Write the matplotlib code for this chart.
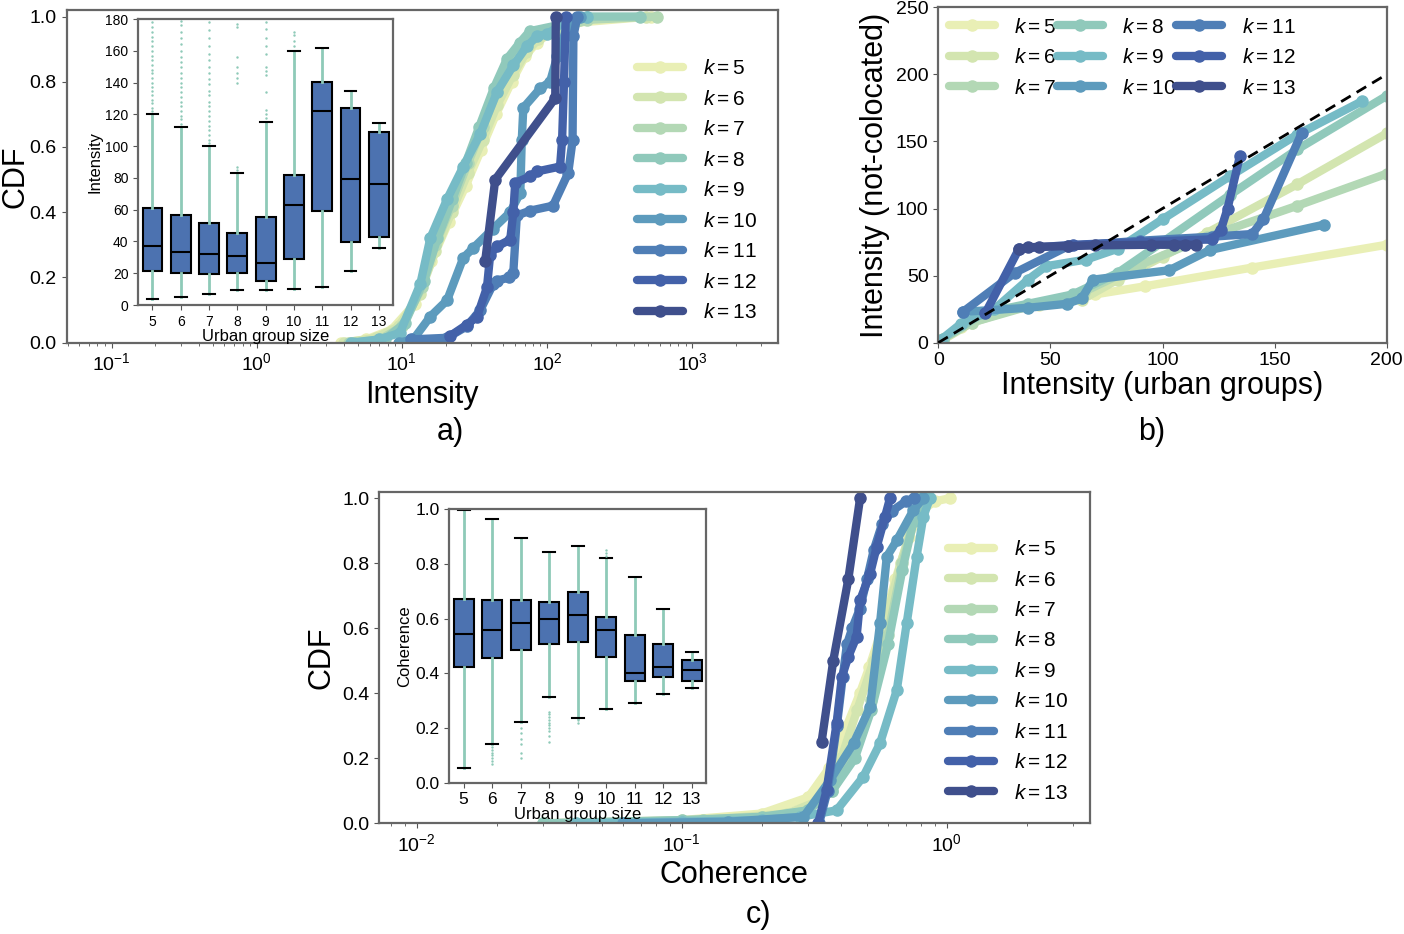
import matplotlib.pyplot as plt

plt.rcParams['font.family'] = ['Liberation Sans', 'DejaVu Sans']
plt.rcParams['mathtext.fontset'] = 'custom'
plt.rcParams['mathtext.rm'] = 'Liberation Sans'
plt.rcParams['mathtext.it'] = 'Liberation Sans:italic'
plt.rcParams['mathtext.bf'] = 'Liberation Sans:bold'

ks = [5, 6, 7, 8, 9, 10, 11, 12, 13]
colors = ['#e9efb5', '#d3e5b0', '#b3d8b5', '#90c9bb', '#76bbc6',
          '#5d9bbd', '#4f7eb6', '#4361a9', '#3f4f8c']
box_color = '#4c72b0'
whisk_color = '#8ecab8'

# ---- a) CDF of intensity per group size
a5_x = [3.8, 5.7, 8.5, 12.3, 16, 21, 27.5, 35, 44.5, 57, 71, 85, 105, 150, 520]
a5_y = [0, 0.01, 0.04, 0.12, 0.25, 0.37, 0.48, 0.59, 0.70, 0.80, 0.88, 0.92, 0.95, 0.98, 1.0]
a6_x = [4, 6.6, 9.5, 13.3, 17, 22, 28.5, 36, 45.5, 58, 72, 87, 114, 170, 480]
a6_y = [0, 0.015, 0.05, 0.15, 0.28, 0.40, 0.52, 0.62, 0.73, 0.82, 0.89, 0.93, 0.96, 0.99, 1.0]
a7_x = [4.3, 7.1, 10, 13.8, 17, 22, 28.5, 36, 45.5, 57, 68, 81, 125, 190, 570]
a7_y = [0, 0.01, 0.05, 0.17, 0.30, 0.42, 0.55, 0.66, 0.77, 0.85, 0.91, 0.94, 0.96, 0.99, 1.0]
a8_x = [4.7, 7.6, 10.5, 14.2, 17.6, 22.3, 27.5, 34, 43, 53, 65, 76, 140, 190, 440]
a8_y = [0, 0.01, 0.06, 0.19, 0.32, 0.44, 0.55, 0.66, 0.78, 0.87, 0.92, 0.955, 0.98, 1.0, 1.0]
a9_x = [4.5, 7, 9.7, 13.4, 15.7, 20.5, 26.5, 34.7, 45.4, 58.6, 73, 85.7, 100, 138, 190]
a9_y = [0, 0.01, 0.03, 0.18, 0.32, 0.44, 0.54, 0.64, 0.77, 0.85, 0.91, 0.94, 0.945, 0.99, 1.0]
a10_x = [9.5, 12, 15.7, 20.5, 26.5, 31, 42.6, 55.8, 65.5, 67, 68.7, 90, 105, 118, 138, 170]
a10_y = [0, 0.01, 0.08, 0.13, 0.26, 0.29, 0.35, 0.40, 0.46, 0.62, 0.72, 0.78, 0.80, 0.88, 0.97, 1.0]
a11_x = [11.5, 20.5, 28, 34.7, 42.6, 45.2, 55, 58.6, 62, 76.8, 110, 140, 150, 152, 162]
a11_y = [0.01, 0.015, 0.05, 0.10, 0.18, 0.19, 0.20, 0.215, 0.39, 0.405, 0.42, 0.52, 0.62, 0.94, 1.0]
a12_x = [21.4, 28, 33, 38.6, 40.6, 45.2, 55.8, 58.6, 60.4, 76.8, 85.4, 123, 127, 131, 134.7]
a12_y = [0.02, 0.055, 0.08, 0.17, 0.27, 0.295, 0.316, 0.40, 0.49, 0.51, 0.525, 0.54, 0.62, 0.80, 1.0]
a13_x = [37.5, 44, 114, 115]
a13_y = [0.25, 0.5, 0.75, 1.0]

# inset a) intensity box plots
ia_lo = [4.0, 4.8, 6.9, 9.2, 9.2, 10.3, 11.5, 21.4, 36.1]
ia_q1 = [21.6, 19.9, 19.5, 19.9, 15.3, 29.0, 58.9, 39.9, 42.6]
ia_med = [37.1, 33.1, 32.1, 30.8, 26.6, 62.9, 122.3, 79.1, 76.1]
ia_q3 = [60.8, 56.6, 51.8, 45.1, 55.4, 81.6, 140.5, 124.2, 109.1]
ia_hi = [120.2, 112, 100, 82.9, 115, 160, 161.5, 134.7, 114.5]
ia_fl5 = [122, 124, 127, 129, 132, 135, 137, 140, 143, 146, 148, 151, 154, 157, 160, 163, 166, 169, 172, 175, 178]
ia_fl6 = [114, 117, 119, 122, 125, 128, 131, 134, 137, 140, 143, 146, 150, 153, 156, 160, 164, 168, 172, 176, 179]
ia_fl7 = [102, 104, 107, 110, 113, 116, 119, 122, 125, 128, 132, 135, 139, 142, 146, 150, 154, 158, 163, 168, 173, 178]
ia_fl8 = [85, 87, 140, 143, 146, 150, 156, 175, 177]
ia_fl9 = [118, 120, 123, 134, 145, 147, 150, 158, 163, 168, 174, 178]
ia_fl10 = [163, 166, 170, 172]

# ---- b) intensity urban groups vs not-colocated
b5_x = [2, 10, 25, 45, 70, 92, 140, 200]
b5_y = [3, 12, 22, 28, 36, 42, 56, 73]
b6_x = [2, 15, 40, 64, 80, 100, 120, 160, 200]
b6_y = [2, 15, 28, 32, 47, 64, 82, 118, 156]
b7_x = [2, 15, 40, 65, 90, 120, 160, 200]
b7_y = [3, 15, 27, 38, 58, 79, 102, 126]
b8_x = [2, 20, 40, 60, 80, 100, 130, 160, 200]
b8_y = [3, 22, 29, 36, 52, 75, 110, 144, 184]
b9_x = [1, 10, 25, 40, 48, 66, 80, 100, 130, 160, 189]
b9_y = [2, 14, 25, 47, 57, 62, 70, 92, 124, 155, 180]
b10_x = [11, 40, 57.5, 64, 69, 103, 121, 172]
b10_y = [23, 26, 29, 33, 47, 54, 69, 88]
b11_x = [11, 34, 58, 90, 122, 140, 145, 162]
b11_y = [23, 52, 72, 76, 79, 81, 92, 156]
b12_x = [21, 36, 60, 90, 122, 126, 129, 134.5]
b12_y = [22, 70, 73, 75, 77, 84, 100, 139]
b13_x = [36, 40, 45, 58, 70, 95, 105, 110, 115]
b13_y = [70, 71, 71.5, 72, 72.5, 73, 73, 73, 73]

# ---- c) CDF of coherence per group size
c5_x = [0.03, 0.1, 0.2, 0.3, 0.36, 0.42, 0.47, 0.51, 0.57, 0.64, 0.72, 0.8, 0.9, 1.03]
c5_y = [0, 0.01, 0.03, 0.08, 0.17, 0.30, 0.40, 0.48, 0.60, 0.75, 0.88, 0.96, 0.99, 1.0]
c6_x = [0.04, 0.12, 0.25, 0.33, 0.4, 0.46, 0.53, 0.6, 0.67, 0.75, 0.85]
c6_y = [0, 0.01, 0.03, 0.07, 0.20, 0.35, 0.50, 0.65, 0.80, 0.93, 1.0]
c7_x = [0.03, 0.12, 0.22, 0.3, 0.37, 0.44, 0.52, 0.6, 0.68, 0.76, 0.82]
c7_y = [0, 0.01, 0.02, 0.04, 0.10, 0.20, 0.38, 0.58, 0.80, 0.95, 1.0]
c8_x = [0.03, 0.1, 0.2, 0.3, 0.37, 0.45, 0.52, 0.6, 0.68, 0.75, 0.8]
c8_y = [0, 0.01, 0.02, 0.04, 0.10, 0.20, 0.35, 0.55, 0.78, 0.93, 1.0]
c9_x = [0.04, 0.1, 0.2, 0.28, 0.384, 0.484, 0.56, 0.648, 0.706, 0.77, 0.816, 0.865]
c9_y = [0, 0.005, 0.01, 0.02, 0.04, 0.143, 0.246, 0.41, 0.615, 0.82, 0.943, 1.0]
c10_x = [0.06, 0.15, 0.288, 0.363, 0.445, 0.514, 0.56, 0.594, 0.648, 0.748, 0.816]
c10_y = [0, 0.005, 0.02, 0.133, 0.246, 0.358, 0.615, 0.82, 0.87, 0.963, 1.0]
c11_x = [0.33, 0.355, 0.385, 0.405, 0.42, 0.44, 0.47, 0.5, 0.53, 0.57, 0.62, 0.7, 0.75]
c11_y = [0, 0.10, 0.30, 0.45, 0.55, 0.60, 0.66, 0.75, 0.84, 0.92, 0.96, 0.99, 1.0]
c12_x = [0.327, 0.352, 0.384, 0.402, 0.425, 0.457, 0.471, 0.514, 0.544, 0.585, 0.611]
c12_y = [0, 0.102, 0.307, 0.45, 0.512, 0.574, 0.686, 0.768, 0.85, 0.943, 1.0]
c13_x = [0.337, 0.373, 0.425, 0.471]
c13_y = [0.25, 0.5, 0.75, 1.0]

# inset c) coherence box plots
ic_lo = [0.055, 0.142, 0.222, 0.312, 0.236, 0.269, 0.291, 0.324, 0.345]
ic_q1 = [0.425, 0.455, 0.487, 0.509, 0.513, 0.460, 0.373, 0.385, 0.373]
ic_med = [0.545, 0.560, 0.584, 0.597, 0.615, 0.557, 0.401, 0.423, 0.411]
ic_q3 = [0.672, 0.670, 0.670, 0.660, 0.698, 0.605, 0.542, 0.507, 0.447]
ic_hi = [0.998, 0.966, 0.896, 0.845, 0.866, 0.822, 0.754, 0.636, 0.478]
ic_fl6 = [0.07, 0.08, 0.09, 0.10, 0.11, 0.12, 0.13]
ic_fl7 = [0.09, 0.11, 0.14, 0.16, 0.18, 0.20]
ic_fl8 = [0.15, 0.17, 0.19, 0.20, 0.21, 0.22, 0.23, 0.24, 0.25, 0.26]
ic_fl9 = [0.22, 0.23]
ic_fl10 = [0.83, 0.84, 0.85]

a_xs = [a5_x, a6_x, a7_x, a8_x, a9_x, a10_x, a11_x, a12_x, a13_x]
a_ys = [a5_y, a6_y, a7_y, a8_y, a9_y, a10_y, a11_y, a12_y, a13_y]
b_xs = [b5_x, b6_x, b7_x, b8_x, b9_x, b10_x, b11_x, b12_x, b13_x]
b_ys = [b5_y, b6_y, b7_y, b8_y, b9_y, b10_y, b11_y, b12_y, b13_y]
c_xs = [c5_x, c6_x, c7_x, c8_x, c9_x, c10_x, c11_x, c12_x, c13_x]
c_ys = [c5_y, c6_y, c7_y, c8_y, c9_y, c10_y, c11_y, c12_y, c13_y]
ia_fliers = [ia_fl5, ia_fl6, ia_fl7, ia_fl8, ia_fl9, ia_fl10, [], [], []]
ic_fliers = [[], ic_fl6, ic_fl7, ic_fl8, ic_fl9, ic_fl10, [], [], []]


def style(ax, size):
    for s in ax.spines.values():
        s.set_color('#666666')
        s.set_linewidth(1.6)
    ax.tick_params(which='both', colors='#555555', labelcolor='black', labelsize=size)


def draw_lines(ax, xs, ys):
    for k, c, x, y in zip(ks, colors, xs, ys):
        ax.plot(x, y, '-o', color=c, lw=6, ms=8, label='$k = %d$' % k,
                solid_capstyle='round', solid_joinstyle='round')


def draw_boxes(ax, lo, q1, med, q3, hi, fliers, size):
    stats = []
    for i in range(len(ks)):
        stats.append(dict(whislo=lo[i], q1=q1[i], med=med[i], q3=q3[i],
                          whishi=hi[i], fliers=fliers[i]))
    ax.bxp(stats, positions=range(len(ks)), widths=0.7, capwidths=0.42, patch_artist=True,
           boxprops=dict(facecolor=box_color, edgecolor='black', linewidth=1.5),
           medianprops=dict(color='black', linewidth=1.5),
           whiskerprops=dict(color=whisk_color, linewidth=2),
           capprops=dict(color='black', linewidth=1.5),
           flierprops=dict(marker='.', markersize=1.5, markerfacecolor=whisk_color,
                           markeredgecolor=whisk_color))
    ax.set_xticks(range(len(ks)))
    ax.set_xticklabels([str(k) for k in ks])
    ax.set_xlim(-0.5, len(ks) - 0.5)
    ax.set_xlabel('Urban group size', fontsize=12, labelpad=0)
    style(ax, size)


leg_kw = dict(frameon=False, fontsize=15, handlelength=2.2, handletextpad=0.95,
              labelspacing=0.55, numpoints=1)

fig = plt.figure(figsize=(14.04, 9.34), dpi=100)

# a)
ax_a = fig.add_axes([0.0474, 0.6331, 0.5067, 0.3562])
draw_lines(ax_a, a_xs, a_ys)
ax_a.set_xscale('log')
ax_a.set_xlim(0.049, 3900)
ax_a.set_ylim(0, 1.02)
ax_a.set_xlabel('Intensity', fontsize=22)
ax_a.set_ylabel('CDF', fontsize=22, labelpad=-1)
style(ax_a, 14)
ax_a.legend(loc='center left', bbox_to_anchor=(0.79, 0.457), borderaxespad=0, **leg_kw)

ax_ia = fig.add_axes([0.0985, 0.6734, 0.1814, 0.3062])
draw_boxes(ax_ia, ia_lo, ia_q1, ia_med, ia_q3, ia_hi, ia_fliers, 10)
ax_ia.set_ylim(0, 180)
ax_ia.set_yticks(range(0, 181, 20))
ax_ia.set_ylabel('Intensity', fontsize=12, labelpad=2)

# b)
ax_b = fig.add_axes([0.6683, 0.6331, 0.3194, 0.3591])
draw_lines(ax_b, b_xs, b_ys)
ax_b.plot([0, 200], [0, 200], color='black', lw=2, ls=(0, (4, 2.5)), zorder=5)
ax_b.set_xlim(0, 200)
ax_b.set_ylim(0, 250)
ax_b.set_xlabel('Intensity (urban groups)', fontsize=22, labelpad=1)
ax_b.set_ylabel('Intensity (not-colocated)', fontsize=22)
style(ax_b, 14)
ax_b.legend(loc='upper left', bbox_to_anchor=(0, 1), borderaxespad=0.1, ncol=3,
            columnspacing=0.0, **leg_kw)

# c)
ax_c = fig.add_axes([0.2699, 0.1185, 0.5064, 0.3551])
draw_lines(ax_c, c_xs, c_ys)
ax_c.set_xscale('log')
ax_c.set_xlim(0.0072, 3.47)
ax_c.set_ylim(0, 1.02)
ax_c.set_xlabel('Coherence', fontsize=22)
ax_c.set_ylabel('CDF', fontsize=22)
style(ax_c, 14)
ax_c.legend(loc='center left', bbox_to_anchor=(0.789, 0.458), borderaxespad=0, **leg_kw)

ax_ic = fig.add_axes([0.3200, 0.1620, 0.1828, 0.2927])
draw_boxes(ax_ic, ic_lo, ic_q1, ic_med, ic_q3, ic_hi, ic_fliers, 12.5)
ax_ic.set_ylim(0, 1.0)
ax_ic.set_ylabel('Coherence', fontsize=12, labelpad=2)

fig.text(0.3205, 0.5375, 'a)', fontsize=22, ha='center', va='center')
fig.text(0.8205, 0.5375, 'b)', fontsize=22, ha='center', va='center')
fig.text(0.5399, 0.0203, 'c)', fontsize=22, ha='center', va='center')

fig.savefig('out.png', dpi=100)
